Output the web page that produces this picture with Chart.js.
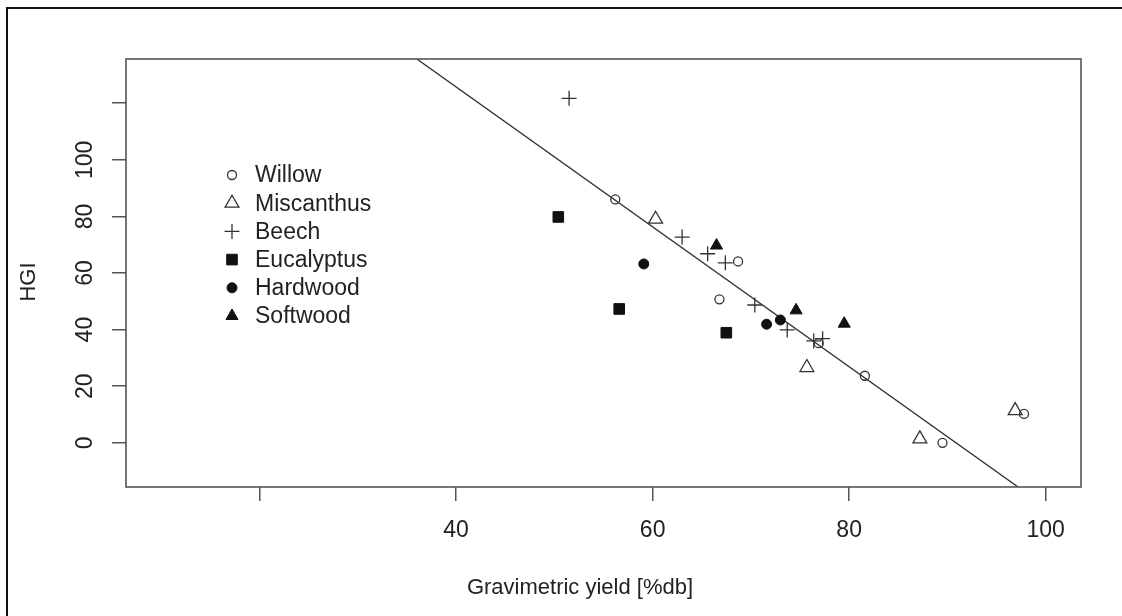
<!DOCTYPE html>
<html>
<head>
<meta charset="utf-8">
<script src="https://cdn.jsdelivr.net/npm/chart.js"></script>
<style>
  html, body { margin: 0; padding: 0; background: #fff; overflow: hidden; }
  #wrap { position: relative; width: 1122px; height: 616px; }
  #frame { position: absolute; left: 6px; top: 7px; width: 1200px; height: 700px;
           border-left: 2.5px solid #111; border-top: 2.5px solid #111; pointer-events: none; }
  canvas { position: absolute; left: 0; top: 0; }
</style>
</head>
<body>
<div id="wrap">
  <canvas id="chart" width="1122" height="616"></canvas>
  <div id="frame"></div>
</div>
<script>
// values: [gravimetric yield, HGI]
const seriesNames = ["Willow", "Miscanthus", "Beech", "Eucalyptus", "Hardwood", "Softwood"];
const willow = [[56.2, 86.0], [68.7, 64.1], [66.8, 50.7], [76.9, 35.2], [81.6, 23.7], [89.5, 0.0], [97.8, 10.2]];
const miscanthus = [[60.3, 79.0], [75.7, 26.6], [87.2, 1.4], [96.9, 11.4]];
const beech = [[51.5, 121.7], [63.0, 72.7], [65.6, 66.8], [67.4, 63.6], [70.4, 48.7], [73.7, 39.9], [76.4, 36.0], [77.3, 36.8]];
const eucalyptus = [[50.4, 79.8], [56.6, 47.3], [67.5, 38.9]];
const hardwood = [[59.1, 63.2], [71.6, 41.9], [73.0, 43.4]];
const softwood = [[66.5, 69.7], [74.6, 46.8], [79.5, 42.1]];
// fitted line, ends where it leaves the plot box
const fitLine = [[36.0, 135.6], [97.2, -15.6]];

const xTicks = [20, 40, 60, 80, 100];
const xTickLabels = ["", "40", "60", "80", "100"];
const yTicks = [0, 20, 40, 60, 80, 100, 120];
const yTickLabels = ["0", "20", "40", "60", "80", "100", ""];

const ink = "#222";
const font = "'Liberation Sans', Arial, sans-serif";

const toXY = (arr) => arr.map((p) => ({ x: p[0], y: p[1] }));

function marker(name, data, style, radius, filled) {
  return {
    label: name,
    data: toXY(data),
    pointStyle: style,
    pointRadius: radius,
    pointBackgroundColor: filled ? "#111" : "rgba(0,0,0,0)",
    pointBorderColor: filled ? "#111" : "#333",
    pointBorderWidth: filled ? 1 : 1.3,
    showLine: false,
  };
}

// box round the plot region
const boxPlugin = {
  id: "box",
  afterDatasetsDraw(chart) {
    const a = chart.chartArea;
    const ctx = chart.ctx;
    ctx.save();
    ctx.strokeStyle = "#555";
    ctx.lineWidth = 1.6;
    ctx.strokeRect(a.left, a.top, a.right - a.left, a.bottom - a.top);
    ctx.restore();
  },
};

// legend inside the plot, no frame, like R's bty="n"; plus the axis titles
const legendPlugin = {
  id: "innerLegend",
  afterDraw(chart) {
    const ctx = chart.ctx;
    const x0 = 232, y0 = 175, step = 28.2;
    ctx.save();
    seriesNames.forEach((name, i) => {
      const ds = chart.data.datasets[i];
      const y = y0 + i * step;
      ctx.fillStyle = ds.pointBackgroundColor;
      ctx.strokeStyle = ds.pointBorderColor;
      ctx.lineWidth = ds.pointBorderWidth;
      Chart.helpers.drawPoint(ctx, {
        pointStyle: ds.pointStyle, radius: ds.pointRadius, rotation: 0, borderWidth: ds.pointBorderWidth,
      }, x0, y);
      ctx.fillStyle = ink;
      ctx.font = "23px " + font;
      ctx.textAlign = "left";
      ctx.textBaseline = "middle";
      ctx.fillText(name, 255, y + 1);
    });
    // x axis title
    ctx.font = "22px " + font;
    ctx.textAlign = "center";
    ctx.fillText("Gravimetric yield [%db]", 580, 588);
    // y axis title
    ctx.translate(29, 282);
    ctx.rotate(-Math.PI / 2);
    ctx.fillText("HGI", 0, 0);
    ctx.restore();
  },
};

new Chart(document.getElementById("chart"), {
  type: "scatter",
  data: {
    datasets: [
      marker(seriesNames[0], willow, "circle", 4.5, false),
      marker(seriesNames[1], miscanthus, "triangle", 8, false),
      marker(seriesNames[2], beech, "cross", 7.5, false),
      marker(seriesNames[3], eucalyptus, "rect", 7.5, true),
      marker(seriesNames[4], hardwood, "circle", 5, true),
      marker(seriesNames[5], softwood, "triangle", 7, true),
      {
        label: "fit",
        data: toXY(fitLine),
        showLine: true,
        borderColor: "#333",
        borderWidth: 1.4,
        pointRadius: 0,
      },
    ],
  },
  options: {
    responsive: false,
    animation: false,
    events: [],
    devicePixelRatio: 1,
    layout: { padding: { left: 0, top: 59, right: 41, bottom: 0 } },
    plugins: { legend: { display: false }, tooltip: { enabled: false } },
    scales: {
      x: {
        type: "linear",
        min: 6.4,
        max: 103.6,
        afterBuildTicks: (s) => { s.ticks = xTicks.map((v) => ({ value: v })); },
        afterFit: (s) => { s.height = 129; },
        border: { display: false },
        grid: { drawOnChartArea: false, drawTicks: true, tickLength: 14, color: "#555", lineWidth: 1.5 },
        ticks: {
          padding: 16,
          color: ink,
          font: { family: font, size: 23 },
          maxRotation: 0,
          callback: (v, i) => xTickLabels[i],
        },
      },
      y: {
        type: "linear",
        min: -15.6,
        max: 135.6,
        afterBuildTicks: (s) => { s.ticks = yTicks.map((v) => ({ value: v })); },
        afterFit: (s) => { s.width = 126; },
        border: { display: false },
        grid: { drawOnChartArea: false, drawTicks: true, tickLength: 14, color: "#555", lineWidth: 1.5 },
        ticks: {
          padding: 7,
          color: ink,
          font: { family: font, size: 23 },
          minRotation: 90,
          maxRotation: 90,
          crossAlign: "center",
          callback: (v, i) => yTickLabels[i],
        },
      },
    },
  },
  plugins: [boxPlugin, legendPlugin],
});
</script>
</body>
</html>
